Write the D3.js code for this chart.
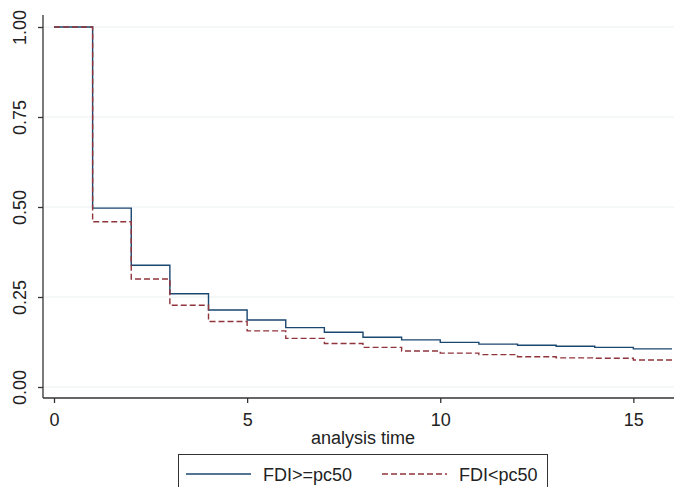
<!DOCTYPE html>
<html>
<head>
<meta charset="utf-8">
<script src="https://cdn.jsdelivr.net/npm/d3@7"></script>
<style>
  body { margin: 0; background: #fff; }
  svg { display: block; }
</style>
</head>
<body>
<div id="chart"></div>
<script>
// Kaplan-Meier survival estimates
var times = [0, 1, 2, 3, 4, 5, 6, 7, 8, 9, 10, 11, 12, 13, 14, 15, 16];
var survHigh = [1.00, 0.497, 0.338, 0.259, 0.214, 0.186, 0.165, 0.152, 0.138, 0.131, 0.124, 0.119, 0.116, 0.113, 0.110, 0.106, 0.106];
var survLow  = [1.00, 0.459, 0.300, 0.227, 0.182, 0.156, 0.135, 0.121, 0.110, 0.100, 0.094, 0.090, 0.084, 0.081, 0.080, 0.075, 0.075];
var xTicks = [0, 5, 10, 15];
var yTicks = [0, 0.25, 0.5, 0.75, 1];
var seriesNames = ["FDI>=pc50", "FDI<pc50"];

const width = 674, height = 487;
const font = "Arial, 'Liberation Sans', sans-serif";

var svg = d3.select("#chart")
    .append("svg")
        .attr("width", width)
        .attr("height", height);

var xScale = d3.scaleLinear().domain([0, 16]).range([54, 672]);
var yScale = d3.scaleLinear().domain([0, 1]).range([387, 27]);

var navy = "#1a476f", maroon = "#90353b";

// grid lines
svg.append("g")
    .selectAll("line")
    .data(yTicks)
    .enter().append("line")
        .attr("x1", 44).attr("x2", width)
        .attr("y1", d => yScale(d)).attr("y2", d => yScale(d))
        .style("stroke", "#e8f0f2")
        .style("stroke-width", 1);

// Y axis
const yAxis = d3.axisLeft(yScale).tickValues(yTicks).tickFormat(d3.format(".2f")).tickSize(5);
var gy = svg.append("g")
    .attr("transform", "translate(43,0)")
    .call(yAxis);
gy.select(".domain").remove();
gy.append("line").attr("x1", 0).attr("x2", 0).attr("y1", 15).attr("y2", 398)
    .style("stroke", "#333").style("stroke-width", 1.3);
gy.selectAll(".tick line").style("stroke", "#333").style("stroke-width", 1.3);
gy.selectAll(".tick text")
    .attr("x", -23.5)
    .attr("y", 0)
    .attr("dy", "0.35em")
    .attr("transform", "rotate(-90,-23.5,0)")
    .style("text-anchor", "middle")
    .style("font-family", font)
    .style("font-size", "18px")
    .style("fill", "#222");

// X axis
const xAxis = d3.axisBottom(xScale).tickValues(xTicks).tickSize(5).tickPadding(10);
var gx = svg.append("g")
    .attr("transform", "translate(0,398)")
    .call(xAxis);
gx.select(".domain").remove();
gx.append("line").attr("x1", 43).attr("x2", width).attr("y1", 0).attr("y2", 0)
    .style("stroke", "#333").style("stroke-width", 1.3);
gx.selectAll(".tick line").style("stroke", "#333").style("stroke-width", 1.3);
gx.selectAll(".tick text")
    .style("font-family", font)
    .style("font-size", "18px")
    .style("fill", "#222");

// X axis label
svg.append("text")
    .attr("x", 363).attr("y", 444)
    .style("text-anchor", "middle")
    .style("font-family", font)
    .style("font-size", "18px")
    .style("fill", "#222")
    .text("analysis time");

// survival step lines
var line = d3.line()
    .x(d => xScale(d[0]))
    .y(d => yScale(d[1]))
    .curve(d3.curveStepAfter);

svg.append("path")
    .datum(times.map((t, i) => [t, survHigh[i]]))
    .attr("d", line)
    .style("fill", "none")
    .style("stroke", navy)
    .style("stroke-width", 1.4);

svg.append("path")
    .datum(times.map((t, i) => [t, survLow[i]]))
    .attr("d", line)
    .style("fill", "none")
    .style("stroke", maroon)
    .style("stroke-width", 1.4)
    .style("stroke-dasharray", "6,3");

// legend
var lg = svg.append("g");
lg.append("rect")
    .attr("x", 178.5).attr("y", 454.5)
    .attr("width", 369).attr("height", 40)
    .style("fill", "#fff")
    .style("stroke", "#333")
    .style("stroke-width", 1);

var legendItems = [
    {name: seriesNames[0], color: navy, dash: null, x: 186},
    {name: seriesNames[1], color: maroon, dash: "6,3", x: 382}
];
legendItems.forEach(function(it) {
    lg.append("line")
        .attr("x1", it.x).attr("x2", it.x + 65)
        .attr("y1", 474).attr("y2", 474)
        .style("stroke", it.color)
        .style("stroke-width", 1.4)
        .style("stroke-dasharray", it.dash);
    lg.append("text")
        .attr("x", it.x + 77).attr("y", 481)
        .style("font-family", font)
        .style("font-size", "18px")
        .style("fill", "#222")
        .text(it.name);
});
</script>
</body>
</html>
